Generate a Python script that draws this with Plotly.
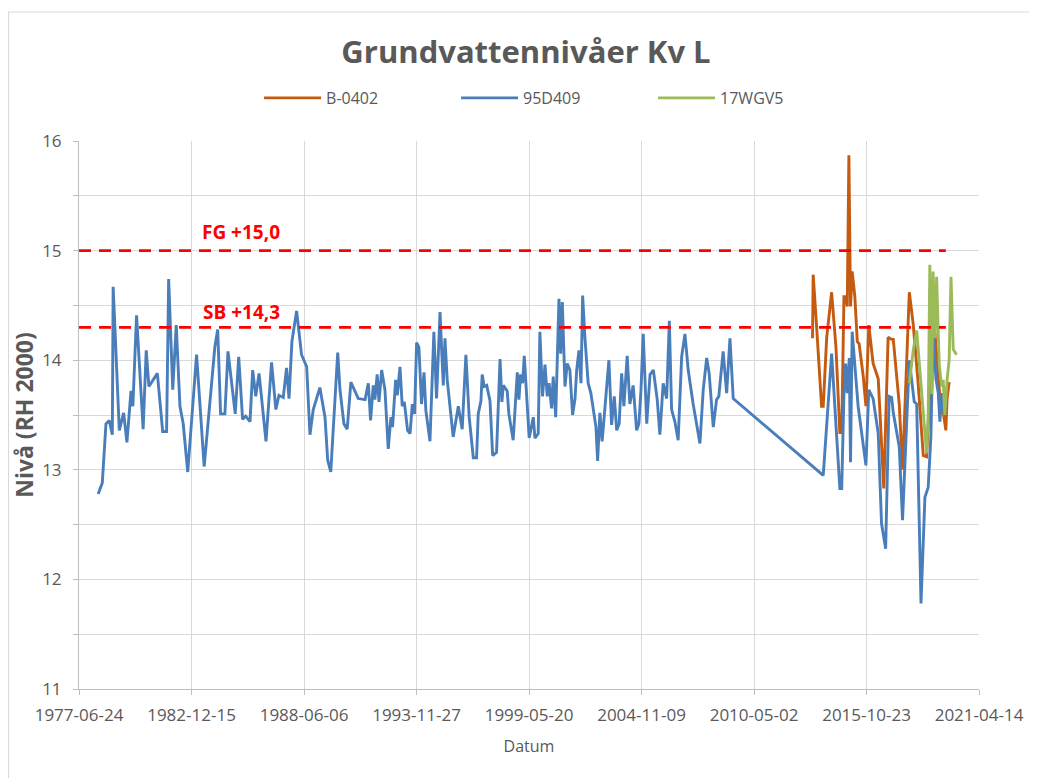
import plotly.graph_objects as go
from datetime import datetime, timedelta

# ---------------- data (decimal years, levels in m RH 2000) ----------------
t_95d409 = [1978.41, 1978.61, 1978.79, 1978.95, 1979.10, 1979.14, 1979.44, 1979.65, 1979.81, 1980.01,
            1980.10, 1980.28, 1980.60, 1980.75, 1980.88, 1981.29, 1981.55, 1981.74, 1981.84, 1982.04,
            1982.21, 1982.39, 1982.55, 1982.77, 1983.20, 1983.57, 1984.09, 1984.23, 1984.37, 1984.58,
            1984.73, 1985.08, 1985.25, 1985.44, 1985.59, 1985.80, 1985.93, 1986.08, 1986.24, 1986.58,
            1986.85, 1987.06, 1987.21, 1987.42, 1987.58, 1987.70, 1987.84, 1988.07, 1988.31, 1988.56,
            1988.72, 1988.88, 1989.20, 1989.45, 1989.58, 1989.73, 1990.07, 1990.18, 1990.37, 1990.53,
            1990.71, 1991.07, 1991.40, 1991.56, 1991.67, 1991.80, 1991.88, 1991.99, 1992.08, 1992.21,
            1992.37, 1992.53, 1992.66, 1992.74, 1992.89, 1992.97, 1993.10, 1993.21, 1993.31, 1993.47,
            1993.59, 1993.70, 1993.81, 1993.91, 1994.02, 1994.15, 1994.27, 1994.36, 1994.56, 1994.75,
            1994.88, 1995.05, 1995.13, 1995.21, 1995.29, 1995.40, 1995.69, 1995.94, 1996.13, 1996.31,
            1996.47, 1996.67, 1996.83, 1996.91, 1997.04, 1997.10, 1997.20, 1997.32, 1997.48, 1997.61,
            1997.80, 1997.97, 1998.06, 1998.13, 1998.32, 1998.40, 1998.61, 1998.81, 1998.89, 1998.97,
            1999.07, 1999.15, 1999.39, 1999.59, 1999.67, 1999.83, 1999.91, 2000.04, 2000.16, 2000.27,
            2000.36, 2000.48, 2000.56, 2000.68, 2000.84, 2000.92, 2001.00, 2001.13, 2001.24, 2001.37,
            2001.50, 2001.62, 2001.70, 2001.81, 2001.91, 2001.99, 2002.10, 2002.19, 2002.26, 2002.39,
            2002.54, 2002.64, 2002.72, 2002.83, 2002.94, 2003.08, 2003.19, 2003.27, 2003.40, 2003.53,
            2003.65, 2003.77, 2003.89, 2004.00, 2004.16, 2004.29, 2004.45, 2004.62, 2004.73, 2004.83,
            2004.94, 2005.11, 2005.27, 2005.43, 2005.51, 2005.62, 2005.75, 2005.91, 2006.08, 2006.21,
            2006.32, 2006.48, 2006.64, 2006.81, 2006.97, 2007.13, 2007.37, 2007.54, 2007.70, 2007.86,
            2008.03, 2008.15, 2008.35, 2008.51, 2008.62, 2008.83, 2009.00, 2009.16, 2009.32, 2013.70,
            2014.11, 2014.51, 2014.60, 2014.71, 2014.79, 2014.87, 2014.97, 2015.03, 2015.11, 2015.40,
            2015.78, 2015.92, 2016.13, 2016.38, 2016.54, 2016.74, 2016.91, 2017.03, 2017.11, 2017.40,
            2017.56, 2017.89, 2018.13, 2018.25, 2018.46, 2018.65, 2018.81, 2018.94, 2019.05, 2019.19,
            2019.30, 2019.38, 2019.48, 2019.57, 2019.67]
v_95d409 = [12.78, 12.88, 13.42, 13.45, 13.32, 14.67, 13.36, 13.52, 13.25, 13.72,
            13.58, 14.41, 13.37, 14.09, 13.76, 13.88, 13.35, 13.35, 14.74, 13.73,
            14.32, 13.58, 13.42, 12.98, 14.05, 13.03, 14.12, 14.28, 13.51, 13.51,
            14.08, 13.51, 14.03, 13.46, 13.49, 13.44, 13.91, 13.67, 13.88, 13.26,
            13.98, 13.55, 13.68, 13.66, 13.93, 13.65, 14.17, 14.45, 14.05, 13.94,
            13.32, 13.55, 13.75, 13.48, 13.09, 12.98, 14.07, 13.73, 13.42, 13.37,
            13.80, 13.65, 13.64, 13.79, 13.45, 13.77, 13.64, 13.87, 13.62, 13.91,
            13.73, 13.19, 13.48, 13.39, 13.82, 13.68, 13.94, 13.58, 13.62, 13.36,
            13.33, 13.60, 13.51, 14.16, 14.12, 13.60, 13.89, 13.54, 13.26, 14.26,
            13.65, 14.44, 14.09, 13.77, 14.20, 13.82, 13.30, 13.58, 13.37, 14.05,
            13.48, 13.11, 13.11, 13.51, 13.63, 13.87, 13.76, 13.77, 13.63, 13.13,
            13.16, 14.01, 13.62, 13.77, 13.72, 13.51, 13.27, 13.89, 13.64, 13.87,
            13.79, 14.04, 13.29, 13.48, 13.29, 13.33, 14.26, 13.67, 13.96, 13.67,
            13.79, 13.56, 13.85, 13.48, 14.56, 14.06, 14.53, 13.76, 13.97, 13.91,
            13.50, 13.65, 13.91, 14.09, 13.79, 14.59, 14.21, 13.91, 13.79, 13.70,
            13.52, 13.39, 13.08, 13.52, 13.26, 13.59, 13.77, 14.00, 13.41, 13.67,
            13.36, 13.42, 13.88, 13.58, 14.04, 13.60, 13.77, 13.36, 13.42, 13.72,
            14.24, 13.42, 13.87, 13.91, 13.80, 13.64, 13.32, 13.79, 13.65, 14.36,
            13.55, 13.44, 13.27, 14.03, 14.24, 13.91, 13.60, 13.42, 13.24, 13.73,
            14.02, 13.88, 13.39, 13.64, 13.67, 14.08, 13.70, 14.20, 13.65, 12.95,
            14.06, 12.83, 12.83, 13.70, 13.97, 13.70, 14.02, 13.07, 14.26, 13.58,
            13.04, 13.73, 13.65, 13.33, 12.51, 12.28, 13.67, 13.66, 13.52, 13.21,
            12.54, 14.00, 13.62, 13.60, 11.78, 12.75, 12.84, 13.30, 14.21, 13.83,
            13.70, 13.44, 13.70, 13.52, 13.60]

t_b0402 = [2013.18, 2013.21, 2013.38, 2013.62, 2013.70, 2013.87, 2014.11, 2014.32, 2014.51, 2014.60,
           2014.71, 2014.79, 2014.87, 2014.95, 2015.03, 2015.11, 2015.24, 2015.36, 2015.45, 2015.65,
           2015.78, 2015.92, 2016.13, 2016.38, 2016.65, 2016.86, 2017.03, 2017.11, 2017.40, 2017.56,
           2017.89, 2018.08, 2018.32, 2018.57, 2018.73, 2018.89, 2019.14, 2019.38, 2019.54, 2019.67,
           2019.73, 2019.83]
v_b0402 = [14.20, 14.78, 14.30, 13.58, 13.58, 14.21, 14.62, 14.12, 13.34, 13.34,
           14.58, 14.58, 14.49, 15.87, 14.49, 14.81, 14.58, 14.17, 14.15, 13.85,
           13.58, 14.32, 13.97, 13.83, 12.83, 14.21, 14.19, 14.19, 13.60, 13.00,
           14.62, 14.33, 13.79, 13.13, 13.12, 13.70, 14.25, 13.67, 13.53, 13.36,
           13.65, 13.80]

t_17wgv5 = [2017.89, 2018.08, 2018.25, 2018.57, 2018.73, 2018.81, 2018.89, 2018.98, 2019.05, 2019.14,
            2019.22, 2019.35, 2019.47, 2019.54, 2019.62, 2019.73, 2019.83, 2019.92, 2020.03, 2020.19]
v_17wgv5 = [13.79, 14.09, 14.27, 13.50, 13.15, 13.50, 14.87, 13.69, 14.81, 14.20,
            14.76, 13.95, 13.76, 13.82, 13.50, 13.82, 14.00, 14.76, 14.10, 14.05]

ref_start = "1977-06-24"
ref_end = 2019.67
fg_level = 15.0
sb_level = 14.3
fg_label = "FG +15,0"
sb_label = "SB +14,3"

tick_labels = ["1977-06-24", "1982-12-15", "1988-06-06", "1993-11-27", "1999-05-20",
               "2004-11-09", "2010-05-02", "2015-10-23", "2021-04-14"]


def yr2date(y):
    yi = int(y)
    return datetime(yi, 1, 1) + timedelta(days=(y - yi) * 365.25)


def dates(ts):
    return [yr2date(t) for t in ts]


FONT = "'Open Sans', sans-serif"
GRAY = "#595959"
GRID = "#D9D9D9"
AXIS = "#BFBFBF"

# plot-area geometry in figure pixels (page has an 8px body margin)
L, T, PW, PH = 71, 133, 900, 548

fig = go.Figure()

fig.add_trace(go.Scatter(x=dates(t_b0402), y=v_b0402, name="B-0402", mode="lines",
                         line=dict(color="#C55A11", width=2.9)))
fig.add_trace(go.Scatter(x=dates(t_95d409), y=v_95d409, name="95D409", mode="lines",
                         line=dict(color="#4A7EBB", width=2.9)))
fig.add_trace(go.Scatter(x=dates(t_17wgv5), y=v_17wgv5, name="17WGV5", mode="lines",
                         line=dict(color="#9BBB59", width=2.9)))

end_d = yr2date(ref_end)
for lvl in (fg_level, sb_level):
    fig.add_trace(go.Scatter(x=[ref_start, end_d], y=[lvl, lvl], mode="lines", showlegend=False,
                             hoverinfo="skip",
                             line=dict(color="#FF0000", width=2.8, dash="12px,8px")))

for lvl, txt, ys in ((fg_level, fg_label, 4), (sb_level, sb_label, 0)):
    fig.add_annotation(x=0.18, xref="paper", xanchor="center", y=lvl, yref="y",
                       text="<b>" + txt + "</b>", showarrow=False, yanchor="bottom", yshift=ys,
                       font=dict(family=FONT, size=19, color="#FF0000"))

# outer chart border
fig.add_shape(type="rect", xref="paper", yref="paper",
              x0=(0.5 - L) / PW, x1=(1100 - L) / PW, y0=(T + PH - 900) / PH, y1=(T + PH - 4) / PH,
              line=dict(color=GRID, width=1.2), fillcolor="rgba(0,0,0,0)", layer="below")

fig.update_layout(
    width=1037, height=778,
    margin=dict(l=L, r=1037 - L - PW, t=T, b=778 - T - PH),
    paper_bgcolor="white", plot_bgcolor="white",
    title=dict(text="<b>Grundvattennivåer Kv L</b>", x=518 / 1037, xanchor="center",
               y=1 - 44 / 778, yanchor="middle",
               font=dict(family=FONT, size=31, color=GRAY)),
    legend=dict(orientation="h", x=0.5284, xanchor="center", y=1.0 + (T - 90) / PH, yanchor="middle",
                font=dict(family=FONT, size=16, color=GRAY), itemwidth=57,
                entrywidth=125, entrywidthmode="pixels"),
    showlegend=True,
    font=dict(family=FONT, color=GRAY),
)

fig.update_xaxes(
    type="date", range=["1977-06-24", "2021-04-14"],
    tickvals=tick_labels, ticktext=tick_labels,
    showgrid=True, gridcolor=GRID, gridwidth=1,
    showline=True, linecolor=AXIS, linewidth=1,
    ticks="outside", ticklen=5, tickcolor=AXIS,
    ticklabelstandoff=6,
    tickfont=dict(family=FONT, size=17, color=GRAY),
    title=dict(text="Datum", font=dict(family=FONT, size=16, color=GRAY), standoff=15),
    zeroline=False,
)
fig.update_yaxes(
    range=[11, 16], dtick=1, tick0=11,
    showgrid=True, gridcolor=GRID, gridwidth=1,
    minor=dict(dtick=0.5, showgrid=True, gridcolor=GRID, ticks="outside", ticklen=5, tickcolor=AXIS),
    showline=True, linecolor=AXIS, linewidth=1,
    ticks="outside", ticklen=5, tickcolor=AXIS,
    ticklabelstandoff=8,
    tickfont=dict(family=FONT, size=17, color=GRAY),
    title=dict(text="<b>Nivå (RH 2000)</b>", font=dict(family=FONT, size=23, color=GRAY), standoff=2),
    zeroline=False,
)

fig.write_html("out.html")
